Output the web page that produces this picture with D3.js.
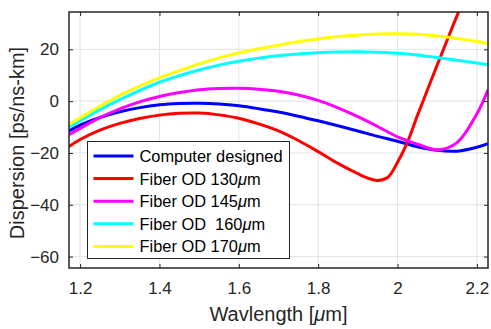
<!DOCTYPE html>
<html>
<head>
<meta charset="utf-8">
<script src="https://cdn.jsdelivr.net/npm/d3@7"></script>
<style>
  body { margin: 0; background: #fff; }
  svg { display: block; font-family: "Liberation Sans", Arial, sans-serif; }
</style>
</head>
<body>
<div id="container"></div>
<script>
// wavelength grid (µm) shared by most series
const wl = [1.172, 1.2, 1.25, 1.3, 1.35, 1.4, 1.45, 1.5, 1.55, 1.6, 1.65, 1.7, 1.75,
  1.8, 1.85, 1.9, 1.95, 2.0, 2.05, 2.1, 2.15, 2.2, 2.228];

const computerDesigned = [-11.5, -9.3, -6.3, -4.1, -2.5, -1.4, -0.9, -0.8, -1.1, -1.8, -2.9, -4.2, -5.8,
  -7.6, -9.5, -11.5, -13.6, -15.5, -17.6, -19.0, -19.3, -17.8, -16.4];
const od145 = [-13, -10.5, -6.4, -3.0, -0.3, 1.8, 3.3, 4.4, 4.9, 5.0, 4.6, 3.8, 2.4,
  0.3, -2.6, -6.0, -9.8, -13.8, -16.6, -18.8, -16.0, -4.9, 4.4];
const od160 = [-10.2, -7.6, -3.3, 0.6, 4.1, 7.3, 9.8, 12.0, 13.9, 15.4, 16.6, 17.5, 18.2,
  18.7, 19.0, 19.1, 18.9, 18.5, 17.8, 16.8, 15.8, 14.7, 14.0];
const od170 = [-9.0, -6.5, -2.0, 2.2, 5.8, 9.0, 11.8, 14.4, 16.7, 18.6, 20.2, 21.6, 22.9,
  24.0, 24.9, 25.5, 25.9, 26.0, 25.8, 25.1, 24.2, 23.0, 22.2];

// OD 130 has a sharp dip, so it gets its own finer grid
const wl130 = [1.172, 1.2, 1.25, 1.3, 1.35, 1.4, 1.45, 1.5, 1.55, 1.6, 1.65, 1.7, 1.75, 1.8,
  1.85, 1.9, 1.925, 1.95, 1.975, 2.0, 2.025, 2.05, 2.075, 2.1, 2.125, 2.15, 2.175];
const od130 = [-17.5, -14.8, -11.2, -8.6, -6.7, -5.4, -4.7, -4.6, -5.3, -6.6, -8.8, -11.5, -15.2, -19.5,
  -24.0, -28.0, -29.7, -30.6, -29.5, -23.6, -15.8, -5.6, 4.2, 14.0, 23.5, 33.0, 42.0];

const names = ["Computer designed", "Fiber OD 130", "Fiber OD 145", "Fiber OD\u00a0\u00a0160", "Fiber OD 170"];
const colors = ["#0000ff", "#ff0000", "#ff00ff", "#00ffff", "#ffff00"];

const xTicks = [1.2, 1.4, 1.6, 1.8, 2.0, 2.2];
const yTicks = [-60, -40, -20, 0, 20];

const series = [
  { x: wl, y: computerDesigned },
  { x: wl130, y: od130 },
  { x: wl, y: od145 },
  { x: wl, y: od160 },
  { x: wl, y: od170 }
];

const w = 491;
const h = 329;
const margin = { top: 12, right: 3, bottom: 61, left: 69 };

const x = d3.scaleLinear().domain([1.172, 2.228]).range([margin.left, w - margin.right]);
const y = d3.scaleLinear().domain([-64.4, 34.4]).range([h - margin.bottom, margin.top]);

const svg = d3.select("#container").append("svg").attr("width", w).attr("height", h);

// grid
svg.append("g").selectAll("line").data(xTicks).join("line")
  .attr("x1", d => x(d)).attr("x2", d => x(d))
  .attr("y1", margin.top).attr("y2", h - margin.bottom)
  .attr("stroke", "#e3e3e3").attr("stroke-width", 1);
svg.append("g").selectAll("line").data(yTicks).join("line")
  .attr("y1", d => y(d)).attr("y2", d => y(d))
  .attr("x1", margin.left).attr("x2", w - margin.right)
  .attr("stroke", "#e3e3e3").attr("stroke-width", 1);

svg.append("clipPath").attr("id", "clip").append("rect")
  .attr("x", margin.left).attr("y", margin.top)
  .attr("width", w - margin.left - margin.right)
  .attr("height", h - margin.top - margin.bottom);

const line = d3.line().curve(d3.curveCatmullRom);

svg.append("g").attr("clip-path", "url(#clip)")
  .selectAll("path").data(series).join("path")
  .attr("d", s => line(s.x.map((v, i) => [x(v), y(s.y[i])])))
  .attr("fill", "none")
  .attr("stroke", (s, i) => colors[i])
  .attr("stroke-width", 3);

// axes with inward ticks on all four sides
const tickLen = 4;
const axisColor = "#262626";
const xb = svg.append("g").attr("transform", `translate(0,${h - margin.bottom})`)
  .call(d3.axisBottom(x).tickValues(xTicks).tickSizeInner(-tickLen).tickSizeOuter(0)
    .tickFormat(d => d3.format("")(d)).tickPadding(14));
const xt = svg.append("g").attr("transform", `translate(0,${margin.top})`)
  .call(d3.axisTop(x).tickValues(xTicks).tickSizeInner(-tickLen).tickSizeOuter(0).tickFormat(""));
const yl = svg.append("g").attr("transform", `translate(${margin.left},0)`)
  .call(d3.axisLeft(y).tickValues(yTicks).tickSizeInner(-tickLen).tickSizeOuter(0).tickPadding(10));
const yr = svg.append("g").attr("transform", `translate(${w - margin.right},0)`)
  .call(d3.axisRight(y).tickValues(yTicks).tickSizeInner(-tickLen).tickSizeOuter(0).tickFormat(""));

[xb, xt, yl, yr].forEach(g => {
  g.select(".domain").remove();
  g.selectAll("line").attr("stroke", axisColor);
  g.selectAll("text").attr("fill", "#262626").style("font-size", "17px")
    .style("font-family", "'Liberation Sans', Arial, sans-serif");
});

svg.append("rect")
  .attr("x", margin.left).attr("y", margin.top)
  .attr("width", w - margin.left - margin.right)
  .attr("height", h - margin.top - margin.bottom)
  .attr("fill", "none").attr("stroke", axisColor).attr("stroke-width", 1.5);

// axis labels
const xl = svg.append("text")
  .attr("x", (margin.left + w - margin.right) / 2).attr("y", 321)
  .attr("text-anchor", "middle").style("font-size", "20px").attr("fill", "#262626");
xl.append("tspan").text("Wavlength [");
xl.append("tspan").text("\u03bc").style("font-style", "italic");
xl.append("tspan").text("m]");

svg.append("text")
  .attr("transform", `translate(24,${(margin.top + h - margin.bottom) / 2 + 3}) rotate(-90)`)
  .attr("text-anchor", "middle").style("font-size", "20px").attr("fill", "#262626")
  .text("Dispersion [ps/ns-km]");

// legend
const lg = svg.append("g").attr("transform", "translate(87.5,141.5)");
lg.append("rect").attr("width", 202).attr("height", 117)
  .attr("fill", "#fff").attr("stroke", "#262626").attr("stroke-width", 1);
names.forEach((n, i) => {
  const yy = 14.5 + i * 22.6;
  lg.append("line").attr("x1", 6).attr("x2", 46).attr("y1", yy).attr("y2", yy)
    .attr("stroke", colors[i]).attr("stroke-width", 3);
  const t = lg.append("text").attr("x", 52).attr("y", yy + 6)
    .style("font-size", "16.4px").attr("fill", "#000");
  t.append("tspan").text(n);
  if (i > 0) {
    t.append("tspan").text("\u03bc").style("font-style", "italic");
    t.append("tspan").text("m");
  }
});
</script>
</body>
</html>
